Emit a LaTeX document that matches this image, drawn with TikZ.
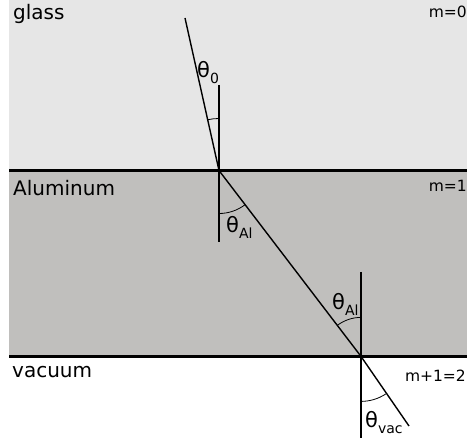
\documentclass[tikz,border=0pt]{standalone}
\usepackage{fontspec}
\setmainfont{DejaVu Sans}
\newcommand\thsub[1]{θ\raisebox{-0.28em}{\fontsize{14}{14}\selectfont #1}}
\begin{document}
\begin{tikzpicture}[x=1pt,y=1pt,
  glassfill/.style={fill={rgb,255:red,230;green,230;blue,230}},
  alfill/.style={fill={rgb,255:red,192;green,191;blue,189}},
  iface/.style={line width=3.5pt},
  normalline/.style={line width=2.4pt},
  ray/.style={line width=1.4pt},
  anglearc/.style={line width=0.8pt},
  medium/.style={font=\fontsize{20}{20}\selectfont, anchor=base west, inner sep=0pt},
  mlabel/.style={font=\fontsize{15.5}{15.5}\selectfont, inner sep=0pt},
  thlabel/.style={font=\fontsize{21}{21}\selectfont, anchor=base west, inner sep=0pt}]
\useasboundingbox (0,0) rectangle (467,445);
% media
\path[glassfill] (9,274.5) rectangle (467,445);
\path[alfill] (9,88.6) rectangle (467,274.5);
% interfaces
\coordinate (i1a) at (9,274.5);
\coordinate (i1b) at (467,274.5);
\coordinate (i2a) at (9,88.6);
\coordinate (i2b) at (467,88.6);
\draw[iface] (i1a) -- (i1b);
\draw[iface] (i2a) -- (i2b);
% ray points
\coordinate (top) at (185,427);
\coordinate (p1) at (219,274.5);
\coordinate (p2) at (361,88.6);
\coordinate (end) at (409,19);
% normals
\coordinate (n1a) at (219,360);
\coordinate (n1b) at (219,203);
\coordinate (n2a) at (361,173);
\coordinate (n2b) at (361,7);
\draw[normalline] (n1a) -- (n1b);
\draw[normalline] (n2a) -- (n2b);
% ray
\draw[ray] (top) -- (p1) -- (p2) -- (end);
% angle arcs
\draw[anglearc] ([shift={(90:52)}]p1) arc[start angle=90, end angle=102.6, radius=52];
\draw[anglearc] ([shift={(270:43)}]p1) arc[start angle=270, end angle=307.4, radius=43];
\draw[anglearc] ([shift={(90:39)}]p2) arc[start angle=90, end angle=127.4, radius=39];
\draw[anglearc] ([shift={(270:45)}]p2) arc[start angle=270, end angle=303.6, radius=45];
% labels
\node[medium] (lglass) at (13,425) {glass};
\node[medium] (lal) at (13,249) {Aluminum};
\node[medium] (lvac) at (12,67) {vacuum};
\node[mlabel, anchor=base east] (m0) at (467,427) {m=0};
\node[mlabel, anchor=base east] (m1) at (467,253) {m=1};
\node[mlabel, anchor=base east] (m2) at (466,63) {m+1=2};
\node[thlabel] (th0) at (197,367) {\thsub{0}};
\node[thlabel] (thal1) at (226,212) {\thsub{Al}};
\node[thlabel] (thal2) at (332,135) {\thsub{Al}};
\node[thlabel] (thvac) at (365,17) {\thsub{vac}};
\end{tikzpicture}
\end{document}
